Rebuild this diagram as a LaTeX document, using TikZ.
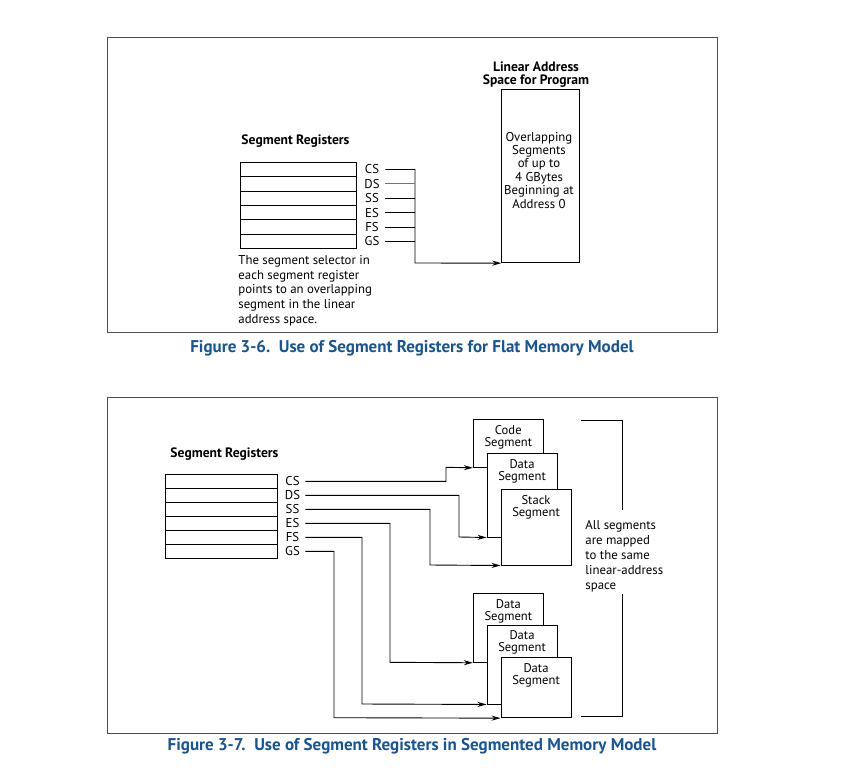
\documentclass[tikz,border=0pt]{standalone}
\usepackage{fontspec}
\setmainfont{PT Sans}
\usetikzlibrary{arrows.meta,positioning}
\definecolor{capblue}{RGB}{22,84,150}
\begin{document}
\begin{tikzpicture}[x=1pt, y=-1pt, line width=0.9pt,
  every node/.style={font=\fontsize{12.8}{13.4}\selectfont},
  reg/.style={draw, minimum width=116pt, minimum height=14.4pt, inner sep=0pt},
  regb/.style={draw, minimum width=111.6pt, minimum height=14pt, inner sep=0pt},
  sel/.style={inner sep=0pt, minimum width=26pt},
  selb/.style={inner sep=0pt, minimum width=25pt},
  segbox/.style={draw, fill=white, minimum width=70pt, inner sep=0pt},
  segtext/.style={inner sep=0pt, align=center, font=\fontsize{12.6}{12}\selectfont},
  title/.style={font=\fontsize{13.6}{13}\selectfont\bfseries},
  caption/.style={font=\fontsize{17}{18}\selectfont\bfseries, text=capblue},
  link/.style={-{Stealth[length=9pt, width=5pt]}}]
\useasboundingbox (0,0) rectangle (861,779);
\draw[black!70, line width=0.8pt] (107,37) rectangle (717,332);
\draw[black!70, line width=0.8pt] (107,397) rectangle (717,733);
\node[caption] (cap1) at (412,348) {Figure 3-6.\ \ Use of Segment Registers for Flat Memory Model};
\node[caption] (cap2) at (412,746) {Figure 3-7.\ \ Use of Segment Registers in Segmented Memory Model};

\node[title, anchor=base west, inner sep=0pt] (regt1) at (241,144) {Segment Registers};
\node[reg] (r1) at (298.5,169.5) {};
\node[reg] (r2) at (298.5,183.9) {};
\node[reg] (r3) at (298.5,198.3) {};
\node[reg] (r4) at (298.5,212.7) {};
\node[reg] (r5) at (298.5,227.1) {};
\node[reg] (r6) at (298.5,241.5) {};
\node[sel] (cs) at (372,169.5) {CS};
\node[sel] (ds) at (372,183.9) {DS};
\node[sel] (ss) at (372,198.3) {SS};
\node[sel] (es) at (372,212.7) {ES};
\node[sel] (fs) at (372,227.1) {FS};
\node[sel] (gs) at (372,241.5) {GS};
\node[anchor=north west, inner sep=0pt, align=left, font=\fontsize{12.8}{14.7}\selectfont] (note1) at (238,255) {The segment selector in\\each segment register\\points to an overlapping\\segment in the linear\\address space.};
\node[draw, minimum width=77.6pt, minimum height=173.4pt, inner sep=0pt] (lin) at (540.5,176) {};
\node[title, anchor=south, align=center, inner sep=0pt] (lint) at (536,87.5) {Linear Address\\Space for Program};
\node[anchor=north, align=center, inner sep=0pt] (lintext) at (539,131.5) {Overlapping\\Segments\\of up to\\4 GBytes\\Beginning at\\Address 0};
\coordinate (jt) at (415,263);
\draw[link] (cs.east) -| (jt) -- (lin.south west);
\draw[black!55] (ds.east) -- (ds.east -| jt);
\draw (ss.east) -- (ss.east -| jt);
\draw (es.east) -- (es.east -| jt);
\draw (fs.east) -- (fs.east -| jt);
\draw (gs.east) -- (gs.east -| jt);

\node[title, anchor=base west, inner sep=0pt] (regt2) at (170,457) {Segment Registers};
\node[regb] (b1) at (221.5,481.3) {};
\node[regb] (b2) at (221.5,495.3) {};
\node[regb] (b3) at (221.5,509.3) {};
\node[regb] (b4) at (221.5,523.3) {};
\node[regb] (b5) at (221.5,537.3) {};
\node[regb] (b6) at (221.5,551.3) {};
\node[selb] (cs2) at (292.5,481.3) {CS};
\node[selb] (ds2) at (292.5,495.3) {DS};
\node[selb] (ss2) at (292.5,509.3) {SS};
\node[selb] (es2) at (292.5,523.3) {ES};
\node[selb] (fs2) at (292.5,537.3) {FS};
\node[selb] (gs2) at (292.5,551.3) {GS};

\node[segbox, minimum height=48.3pt] (code) at (508.3,443.2) {};
\node[segtext, below=6pt of code.north] (codet) {Code\\Segment};
\node[segbox, minimum height=83.7pt] (data) at (522,495.2) {};
\node[segtext, below=6pt of data.north] (datat) {Data\\Segment};
\node[segbox, minimum height=75.7pt] (stack) at (536,527.2) {};
\node[segtext, below=6pt of stack.north] (stackt) {Stack\\Segment};
\node[segbox, minimum height=69pt] (dataA) at (508.3,627.8) {};
\node[segtext, below=6pt of dataA.north] (dataAt) {Data\\Segment};
\node[segbox, minimum height=79pt] (dataB) at (522,664.5) {};
\node[segtext, below=6pt of dataB.north] (dataBt) {Data\\Segment};
\node[segbox, minimum height=60pt] (dataC) at (536,687.7) {};
\node[segtext, below=6pt of dataC.north] (dataCt) {Data\\Segment};

\coordinate (kc) at (446,467.3);
\coordinate (kd) at (459,537);
\coordinate (ks) at (430,565);
\coordinate (ke) at (390,662.3);
\coordinate (kf) at (362,704);
\coordinate (kg) at (334,717.7);
\draw[link] (cs2.east) -| (kc) -- (code.south west);
\draw[link] (ds2.east) -| (kd) -- (data.south west);
\draw[link] (ss2.east) -| (ks) -- (stack.south west);
\draw[link] (es2.east) -| (ke) -- (dataA.south west);
\draw[link] (fs2.east) -| (kf) -- (dataB.south west);
\draw[link] (gs2.east) -| (kg) -- (dataC.south west);

\node[anchor=north west, inner sep=0pt, align=left, font=\fontsize{12.8}{15}\selectfont] (note2) at (585,520) {All segments\\are mapped\\to the same\\linear-address\\space};
\coordinate (bt) at (581,420.7);
\coordinate (bm1) at (622,510);
\coordinate (bm2) at (622,594);
\coordinate (bb) at (581,716);
\draw (bt) -| (bm1);
\draw (bb) -| (bm2);
\end{tikzpicture}
\end{document}
